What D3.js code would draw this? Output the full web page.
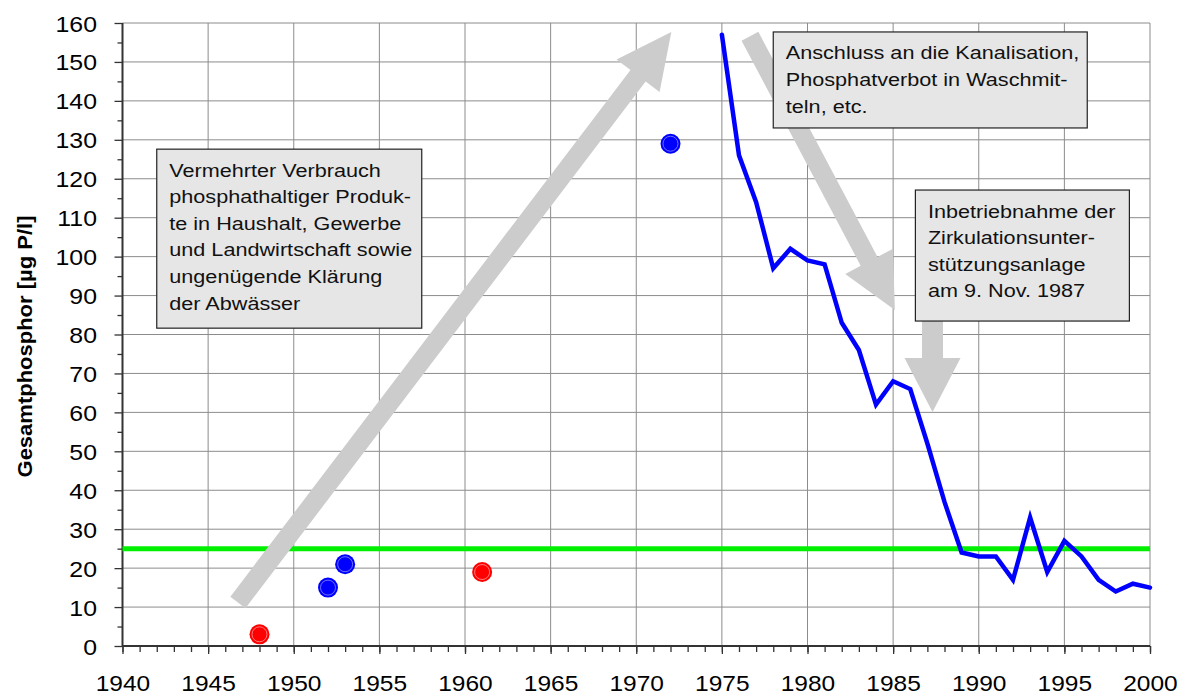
<!DOCTYPE html>
<html>
<head>
<meta charset="utf-8">
<script src="https://cdn.jsdelivr.net/npm/d3@7"></script>
<style>
  body { margin: 0; background: #fff; }
  text { font-family: "Liberation Sans", Arial, sans-serif; }
</style>
</head>
<body>
<div class="chart"></div>
<script>
// measured series (µg P/l)
let lineYears = [1975, 1976, 1977, 1978, 1979, 1980, 1981, 1982, 1983, 1984, 1985, 1986, 1987,
                 1988, 1989, 1990, 1991, 1992, 1993, 1994, 1995, 1996, 1997, 1998, 1999, 2000];
let lineValues = [157, 126, 114, 97, 102, 99, 98, 83, 76, 62, 68, 66, 52,
                  37, 24, 23, 23, 17, 33, 19, 27, 23, 17, 14, 16, 15];

// single measurements
let pointYears = [1948, 1952, 1953, 1961, 1972];
let pointValues = [3, 15, 21, 19, 129];
let pointGroup = ["red", "blue", "blue", "red", "blue"];

let targetValue = 25;

let yTicks = d3.range(0, 161, 10);
let xTicks = d3.range(1940, 2001, 5);
let yLabel = "Gesamtphosphor [µg P/l]";

// annotations: arrows (from/to in data units) and boxes (anchor in data units)
let arrowFrom = [[1946.74, 11.2], [1976.64, 156.6], [1987.3, 85]];
let arrowTo = [[1972.05, 157.7], [1985.1, 86.3], [1987.3, 60.1]];

let boxAnchor = [[1942, 127.6], [1978, 157.7], [1986.3, 117.1]];
let boxText = [
  ["Vermehrter Verbrauch", "phosphathaltiger Produk-", "te in Haushalt, Gewerbe",
   "und Landwirtschaft sowie", "ungenügende Klärung", "der Abwässer"],
  ["Anschluss an die Kanalisation,", "Phosphatverbot in Waschmit-", "teln, etc."],
  ["Inbetriebnahme der", "Zirkulationsunter-", "stützungsanlage", "am 9. Nov. 1987"]
];

let width = 1182, height = 696;
let plotLeft = 122.5, plotRight = 1150, plotTop = 23, plotBottom = 646;

let svg = d3.select(".chart").append("svg")
  .attr("width", width)
  .attr("height", height);

let x = d3.scaleLinear().domain([1940, 2000]).range([plotLeft, plotRight]);
let y = d3.scaleLinear().domain([0, 160]).range([plotBottom, plotTop]);

// grid
svg.append("g").selectAll("line")
  .data(yTicks.filter(d => d > 0))
  .enter().append("line")
  .attr("x1", plotLeft).attr("x2", plotRight)
  .attr("y1", d => y(d)).attr("y2", d => y(d))
  .attr("stroke", "#8c8c8c").attr("stroke-width", 1);

svg.append("g").selectAll("line")
  .data(xTicks.filter(d => d > 1940))
  .enter().append("line")
  .attr("x1", d => x(d)).attr("x2", d => x(d))
  .attr("y1", plotTop).attr("y2", plotBottom)
  .attr("stroke", "#8c8c8c").attr("stroke-width", 1);

// axes
let yAxisMinor = d3.axisLeft(y).tickValues(d3.range(5, 160, 10)).tickSize(5).tickFormat("");
let yAxis = d3.axisLeft(y).tickValues(yTicks).tickSize(8);
let xAxisMinor = d3.axisBottom(x).tickValues(d3.range(1940, 2001, 1)).tickSize(6).tickFormat("");
let xAxis = d3.axisBottom(x).tickValues(xTicks).tickSize(8).tickFormat(d3.format("d"));

function styleAxis(g) {
  g.select(".domain").remove();
  g.selectAll("line").attr("stroke", "#333").attr("stroke-width", 1.3);
  g.selectAll("text").attr("fill", "#000").style("font-size", "22px");
}

svg.append("g").attr("transform", `translate(${plotLeft},0)`).call(yAxisMinor).call(styleAxis);
svg.append("g").attr("transform", `translate(${plotLeft},0)`).call(yAxis).call(styleAxis)
  .selectAll(".tick text")
  .attr("x", 0).attr("dy", null)
  .attr("transform", "translate(-25.5,8) scale(1.13,1)");
svg.append("g").attr("transform", `translate(0,${plotBottom})`).call(xAxisMinor).call(styleAxis);
svg.append("g").attr("transform", `translate(0,${plotBottom})`).call(xAxis).call(styleAxis)
  .selectAll(".tick text")
  .attr("y", 0).attr("dy", null)
  .style("font-size", "21.5px")
  .attr("transform", "translate(0,45) scale(1.14,1)");

svg.append("line")
  .attr("x1", plotLeft).attr("x2", plotLeft).attr("y1", plotTop).attr("y2", plotBottom)
  .attr("stroke", "#333").attr("stroke-width", 2);
svg.append("line")
  .attr("x1", plotLeft).attr("x2", plotRight).attr("y1", plotBottom).attr("y2", plotBottom)
  .attr("stroke", "#333").attr("stroke-width", 2);

svg.append("text")
  .attr("transform", `translate(32,${(plotTop + plotBottom) / 2 + 12}) rotate(-90) scale(1.1,1)`)
  .attr("text-anchor", "middle")
  .style("font-size", "20px")
  .style("font-weight", "bold")
  .text(yLabel);

// target line
svg.append("line")
  .attr("x1", x(1940)).attr("x2", x(2000))
  .attr("y1", y(targetValue)).attr("y2", y(targetValue))
  .attr("stroke", "#00f000").attr("stroke-width", 5);

// measured line
let line = d3.line().x((d, i) => x(lineYears[i])).y(d => y(d));
svg.append("path")
  .datum(lineValues)
  .attr("d", line)
  .attr("fill", "none")
  .attr("stroke", "#0000ff")
  .attr("stroke-width", 4.5)
  .attr("stroke-linejoin", "miter")
  .attr("stroke-linecap", "round");

// single points
let fillOf = { red: "#ff0000", blue: "#0000ff" };
let ringOf = { red: "#ff9a9a", blue: "#8a8aff" };
let pts = svg.append("g").selectAll("g")
  .data(pointValues)
  .enter().append("g")
  .attr("transform", (d, i) => `translate(${x(pointYears[i])},${y(d)})`);
pts.append("circle").attr("r", 10).attr("fill", (d, i) => fillOf[pointGroup[i]]);
pts.append("circle").attr("r", 7.5).attr("fill", "none")
  .attr("stroke", (d, i) => ringOf[pointGroup[i]]).attr("stroke-width", 0.8);

// arrows
let shaftW = [19, 19, 21], headW = [54, 54, 56], headL = [55, 55, 54];
function arrowPath(i) {
  let sx = x(arrowFrom[i][0]), sy = y(arrowFrom[i][1]);
  let tx = x(arrowTo[i][0]), ty = y(arrowTo[i][1]);
  let len = Math.hypot(tx - sx, ty - sy);
  let ux = (tx - sx) / len, uy = (ty - sy) / len;
  let nx = -uy, ny = ux;
  let bx = tx - ux * headL[i], by = ty - uy * headL[i];
  let w = shaftW[i] / 2, h = headW[i] / 2;
  let p = [
    [sx + nx * w, sy + ny * w],
    [bx + nx * w, by + ny * w],
    [bx + nx * h, by + ny * h],
    [tx, ty],
    [bx - nx * h, by - ny * h],
    [bx - nx * w, by - ny * w],
    [sx - nx * w, sy - ny * w]
  ];
  return "M" + p.map(q => q.join(",")).join("L") + "Z";
}
svg.append("g").selectAll("path")
  .data(arrowFrom)
  .enter().append("path")
  .attr("d", (d, i) => arrowPath(i))
  .attr("fill", "#cccccc");

// text boxes
let boxW = [265, 314, 214], boxH = [179, 96, 131];
let boxes = svg.append("g").selectAll("g")
  .data(boxText)
  .enter().append("g")
  .attr("transform", (d, i) => `translate(${x(boxAnchor[i][0])},${y(boxAnchor[i][1])})`);

boxes.append("rect")
  .attr("width", (d, i) => boxW[i])
  .attr("height", (d, i) => boxH[i])
  .attr("fill", "#e6e6e6")
  .attr("stroke", "#222")
  .attr("stroke-width", 1.2);

boxes.each(function(lines) {
  d3.select(this).selectAll("text")
    .data(lines)
    .enter().append("text")
    .attr("transform", (d, j) => `translate(12.5,${27.5 + j * 26.6}) scale(1.17,1)`)
    .style("font-size", "18.5px")
    .attr("fill", "#111")
    .text(d => d);
});
</script>
</body>
</html>
